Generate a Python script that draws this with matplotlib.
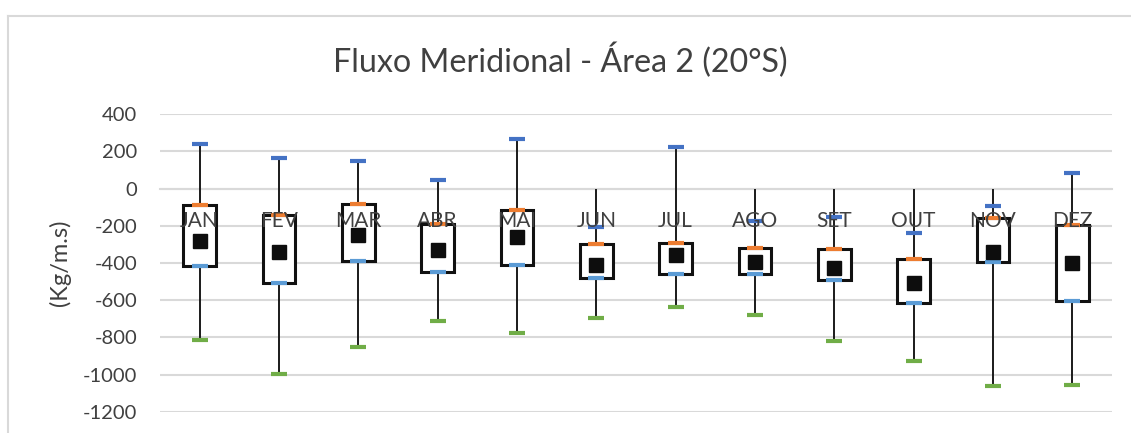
import matplotlib
matplotlib.use("Agg")
import matplotlib.pyplot as plt
import numpy as np
from matplotlib.lines import Line2D
from matplotlib.patches import Rectangle

months = ["JAN", "FEV", "MAR", "ABR", "MAI", "JUN", "JUL", "AGO", "SET", "OUT", "NOV", "DEZ"]
maximum = [240, 165, 147, 45, 266, -204, 226, -174, -151, -240, -91, 83]
q3 = [-89, -140, -84, -190, -113, -299, -294, -317, -326, -378, -159, -197]
mean = [-280, -342, -251, -330, -258, -409, -357, -396, -428, -509, -340, -398]
q1 = [-416, -509, -387, -446, -410, -479, -459, -461, -489, -615, -394, -604]
minimum = [-814, -995, -850, -712, -776, -694, -638, -681, -821, -925, -1063, -1058]
yticks = [400, 200, 0, -200, -400, -600, -800, -1000, -1200]

FONT = "Lato"
W, H = 1131, 433
fig = plt.figure(figsize=(W / 100, H / 100), dpi=100)
ax = fig.add_axes([160 / W, 1 - 411.7 / H, (1112 - 160) / W, (411.7 - 114.3) / H])

x = np.arange(len(months))
mx = np.array(maximum)
top = np.maximum(mx, 0)

# whiskers
ax.vlines(x, minimum, top, color="#1a1a1a", lw=1.4, zorder=2)
# boxes
bw = 0.41
for xi, a, b in zip(x, q3, q1):
    ax.add_patch(Rectangle((xi - bw / 2, b), bw, a - b, facecolor="white",
                           edgecolor="#111111", lw=2.2, zorder=3))
# markers
ms, mw = 11, 3.0
ax.plot(x, maximum, ls="none", marker="_", ms=ms, mew=mw, color="#4472C4", zorder=4)
ax.plot(x, q3, ls="none", marker="_", ms=ms, mew=mw, color="#ED7D31", zorder=4)
ax.plot(x, q1, ls="none", marker="_", ms=ms, mew=mw, color="#5B9BD5", zorder=4)
ax.plot(x, minimum, ls="none", marker="_", ms=ms, mew=mw, color="#70AD47", zorder=4)
ax.plot(x, mean, ls="none", marker="s", ms=10, color="#0d0d0d", zorder=5)

ax.set_xlim(-0.5, len(months) - 0.5)
ax.set_ylim(-1200, 400)
ax.set_yticks(yticks)
ax.set_yticklabels([str(v) for v in yticks])
ax.grid(axis="y", color="#d9d9d9", lw=1.5)
ax.set_axisbelow(True)
for s in ["top", "right", "left"]:
    ax.spines[s].set_visible(False)
ax.spines["bottom"].set_position(("data", 0))
ax.spines["bottom"].set_color("#d9d9d9")
ax.spines["bottom"].set_linewidth(1.5)
ax.spines["bottom"].set_zorder(1)
ax.set_xticks(x)
ax.set_xticklabels([])
for xi, m in zip(x, months):
    ax.annotate(m, xy=(xi, 0), xytext=(0, -32), textcoords="offset pixels",
                ha="center", va="center", fontsize=15, family=FONT,
                color="#404040", zorder=6)
ax.tick_params(axis="x", length=0)
ax.tick_params(axis="y", length=0, pad=16.5, labelsize=14.5, labelcolor="#404040")
for lab in ax.get_yticklabels():
    lab.set_family(FONT)

fig.text(60 / W, 1 - 263 / H, "(Kg/m.s)", rotation=90, ha="center", va="center",
         fontsize=17, family=FONT, color="#404040")
fig.text(560 / W, 1 - 60 / H, "Fluxo Meridional - Área 2 (20°S)", ha="center",
         va="center", fontsize=23.2, family=FONT, color="#404040")

# chart-area border
fig.add_artist(Line2D([7.5 / W, 1.0], [1 - 15.5 / H, 1 - 15.5 / H], color="#d9d9d9", lw=1.5))
fig.add_artist(Line2D([7.5 / W, 7.5 / W], [0, 1 - 15.5 / H], color="#d9d9d9", lw=1.5))

fig.savefig("out.png", dpi=100)
